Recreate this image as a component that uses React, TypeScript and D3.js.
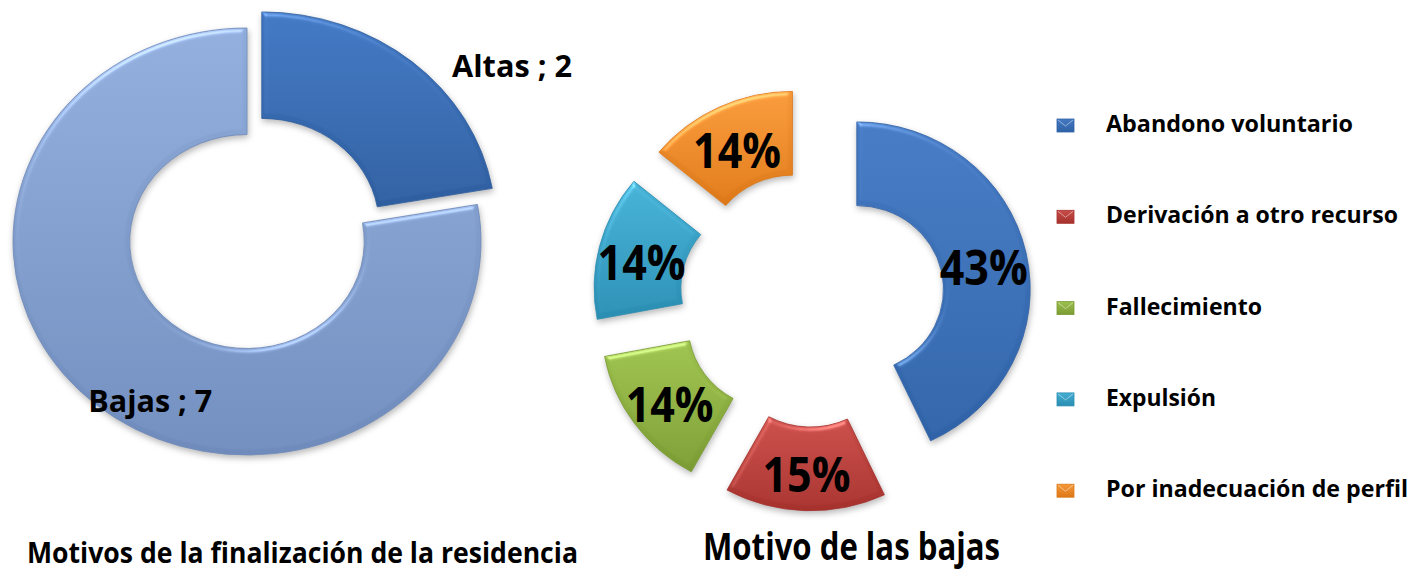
import React from "react";
import * as d3 from "d3";

// ---------- data ----------
const leftCategories = ["Altas", "Bajas"];
const leftValues = [2, 7];
const leftLabels = ["Altas ; 2", "Bajas ; 7"];
const leftTitle = "Motivos de la finalización de la residencia";

const rightCategories = [
  "Abandono voluntario",
  "Derivación a otro recurso",
  "Fallecimiento",
  "Expulsión",
  "Por inadecuación de perfil",
];
const rightValues = [43, 15, 14, 14, 14];
const rightLabels = ["43%", "15%", "14%", "14%", "14%"];
const rightTitle = "Motivo de las bajas";

// ---------- styles ----------
const leftColors = [
  ["#3f75c0", "#2f5e9f"],
  ["#8fabd9", "#6f8bbb"],
];
const rightColors = [
  ["#4479c2", "#2f62a6"],
  ["#c94d48", "#a5312d"],
  ["#9cc04d", "#7a9b33"],
  ["#44afd3", "#2a8db2"],
  ["#f59839", "#dd7818"],
];
const FONT = "'Open Sans', 'Noto Sans', sans-serif";
const legendWidths = [247, 292, 156, 110, 302];

type Pt = [number, number];
const polar = (a: number, r: number): Pt => [Math.sin(a) * r, -Math.cos(a) * r];

export default function App() {
  const W = 1426;
  const H = 573;
  const pie = d3.pie<number>().sort(null).value((d) => d);

  // Left donut geometry
  const L = { cx: 247, cy: 241.5, R: 213.5, r: 107, sx: 1.096, sy: 1, explode: [21, 0] };
  const leftArcs = pie(leftValues);
  const leftArc = d3.arc<d3.PieArcDatum<number>>().innerRadius(L.r).outerRadius(L.R);

  // Right donut geometry
  const Rg = { cx: 812, cy: 299, R: 170, r: 85, sx: 1.02, sy: 0.985, explode: 45 };
  const rightArcs = pie(rightValues);
  const rightArc = d3.arc<d3.PieArcDatum<number>>().innerRadius(Rg.r).outerRadius(Rg.R);

  const mid = (a: d3.PieArcDatum<number>) => (a.startAngle + a.endAngle) / 2;

  // left label anchors (angle in degrees, radius factor)
  const leftLabelPolar: [number, number][] = [
    [54, 1.4],
    [209, 0.853],
  ];

  const legendX = 1057;
  const legendRow0 = 132;
  const legendStep = 91.3;

  return (
    <svg width={W} height={H} style={{ display: "block", position: "absolute", left: 0, top: 0 }}>
      <defs>
        <filter id="bevel" x="-20%" y="-20%" width="140%" height="140%" colorInterpolationFilters="sRGB">
          <feGaussianBlur in="SourceAlpha" stdDeviation="2.5" result="blur" />
          <feSpecularLighting in="blur" surfaceScale="3" specularConstant="0.6" specularExponent="22" lightingColor="#ffffff" result="spec">
            <feDistantLight azimuth="250" elevation="35" />
          </feSpecularLighting>
          <feComposite in="spec" in2="SourceAlpha" operator="in" result="specIn" />
          <feComposite in="SourceGraphic" in2="specIn" operator="arithmetic" k1="0" k2="1" k3="0.45" k4="0" result="lit" />
          <feGaussianBlur in="SourceAlpha" stdDeviation="3" result="sh" />
          <feOffset in="sh" dx="1" dy="3" result="sho" />
          <feFlood floodColor="#000000" floodOpacity="0.28" />
          <feComposite in2="sho" operator="in" result="shadow" />
          <feMerge>
            <feMergeNode in="shadow" />
            <feMergeNode in="lit" />
          </feMerge>
        </filter>
        {leftColors.map((c, i) => (
          <linearGradient key={"lg" + i} id={"lg" + i} x1="0" y1="0" x2="0" y2="1">
            <stop offset="0" stopColor={c[0]} />
            <stop offset="1" stopColor={c[1]} />
          </linearGradient>
        ))}
        {rightColors.map((c, i) => (
          <linearGradient key={"rg" + i} id={"rg" + i} x1="0" y1="0" x2="0" y2="1">
            <stop offset="0" stopColor={c[0]} />
            <stop offset="1" stopColor={c[1]} />
          </linearGradient>
        ))}
      </defs>
      <rect width={W} height={H} fill="#ffffff" />

      {/* Left donut */}
      <g transform={`translate(${L.cx},${L.cy}) scale(${L.sx},${L.sy})`}>
        {leftArcs.map((a, i) => {
          const [ox, oy] = polar(mid(a), L.explode[i]);
          return (
            <path
              key={leftCategories[i]}
              d={leftArc(a) || ""}
              transform={`translate(${ox},${oy})`}
              fill={`url(#lg${i})`}
              stroke={leftColors[i][1]}
              strokeWidth={0.8}
              filter="url(#bevel)"
            />
          );
        })}
      </g>
      {leftArcs.map((a, i) => {
        const [deg, f] = leftLabelPolar[i];
        const [px, py] = polar((deg * Math.PI) / 180, L.R * f);
        const x = L.cx + px * L.sx;
        const y = L.cy + py * L.sy;
        return (
          <text
            key={"ll" + i}
            x={x}
            y={y + 11}
            textAnchor="middle"
            fontFamily={FONT}
            fontWeight={700}
            fontSize={30}
            textLength={i === 0 ? 120 : 124}
            lengthAdjust="spacingAndGlyphs"
            fill="#000"
          >
            {leftLabels[i]}
          </text>
        );
      })}

      {/* Right donut */}
      <g transform={`translate(${Rg.cx},${Rg.cy}) scale(${Rg.sx},${Rg.sy})`}>
        {rightArcs.map((a, i) => {
          const [ox, oy] = polar(mid(a), Rg.explode);
          return (
            <path
              key={rightCategories[i]}
              d={rightArc(a) || ""}
              transform={`translate(${ox},${oy})`}
              fill={`url(#rg${i})`}
              stroke={rightColors[i][1]}
              strokeWidth={0.8}
              filter="url(#bevel)"
            />
          );
        })}
      </g>
      {rightArcs.map((a, i) => {
        const [px, py] = polar(mid(a), (Rg.r + Rg.R) / 2 + Rg.explode);
        const x = Rg.cx + px * Rg.sx;
        const y = Rg.cy + py * Rg.sy;
        return (
          <text
            key={"rl" + i}
            x={x}
            y={y + 6 + 17}
            textAnchor="middle"
            fontFamily={FONT}
            fontWeight={700}
            fontSize={48}
            textLength={88}
            lengthAdjust="spacingAndGlyphs"
            fill="#000"
          >
            {rightLabels[i]}
          </text>
        );
      })}

      {/* Legend */}
      {rightCategories.map((c, i) => {
        const by = legendRow0 + i * legendStep;
        return (
          <g key={"leg" + i}>
            <rect
              x={legendX}
              y={by - 13}
              width={17}
              height={13}
              fill={`url(#rg${i})`}
              stroke={rightColors[i][1]}
              strokeWidth={0.8}
            />
            <path
              d={`M${legendX + 1},${by - 12} L${legendX + 8.5},${by - 6} L${legendX + 16},${by - 12}`}
              fill="none"
              stroke="#ffffff"
              strokeOpacity={0.45}
              strokeWidth={1}
            />
            <text
              x={1106}
              y={by}
              fontFamily={FONT}
              fontWeight={700}
              fontSize={24}
              textLength={legendWidths[i]}
              lengthAdjust="spacingAndGlyphs"
              fill="#000"
            >
              {c}
            </text>
          </g>
        );
      })}

      {/* Titles */}
      <text
        x={27}
        y={563}
        fontFamily={FONT}
        fontWeight={700}
        fontSize={29}
        textLength={551}
        lengthAdjust="spacingAndGlyphs"
        fill="#000"
      >
        {leftTitle}
      </text>
      <text
        x={703}
        y={560}
        fontFamily={FONT}
        fontWeight={700}
        fontSize={38}
        textLength={297}
        lengthAdjust="spacingAndGlyphs"
        fill="#000"
      >
        {rightTitle}
      </text>
    </svg>
  );
}
